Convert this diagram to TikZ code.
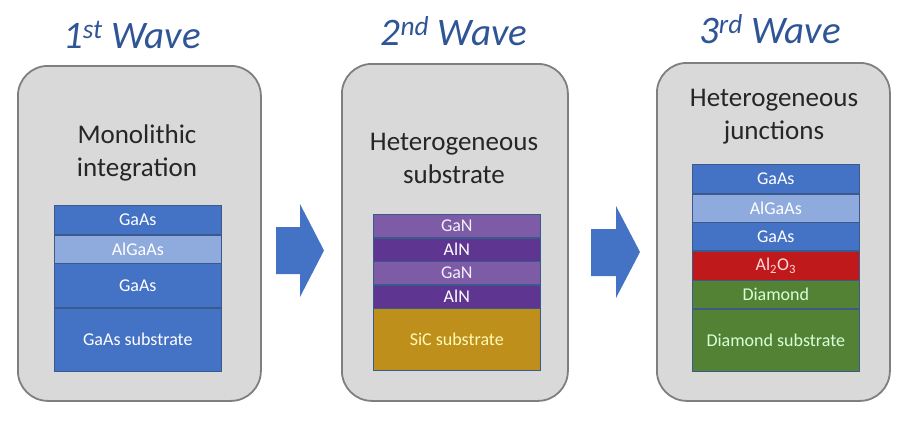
\documentclass[tikz,border=0pt]{standalone}
\usepackage{fontspec}
\setmainfont{Carlito}
\definecolor{WvBlue}{HTML}{2F5597}
\definecolor{WvGray}{HTML}{7F7F7F}
\definecolor{WvFill}{HTML}{D9D9D9}
\definecolor{WvText}{HTML}{262626}
\definecolor{WvEdge}{HTML}{3A5A8C}
\definecolor{GaAsC}{HTML}{4472C4}
\definecolor{AlGaAsC}{HTML}{8FAADC}
\definecolor{GaNC}{HTML}{7D5BA6}
\definecolor{AlNC}{HTML}{5E3590}
\definecolor{SiCC}{HTML}{BF8F1C}
\definecolor{AlOC}{HTML}{C0191C}
\definecolor{DiaC}{HTML}{548235}
\usetikzlibrary{positioning}

\begin{document}
\begin{tikzpicture}[x=1pt, y=-1pt,
    every node/.style={font=\fontsize{18}{20}\selectfont},
    panel/.style={rectangle, rounded corners=30pt, draw=WvGray, line width=1.8pt,
      fill=WvFill, anchor=north west, inner sep=0pt},
    wave/.style={font=\fontsize{39}{42}\selectfont\itshape, text=WvBlue, anchor=base},
    heading/.style={font=\fontsize{27}{33}\selectfont, text=WvText, align=center},
    layer/.style={rectangle, draw=WvEdge, line width=0.6pt, fill=#1, text=white,
      minimum width=167pt, anchor=north west, inner sep=0pt}]
    \useasboundingbox (0,0) rectangle (918,423);

    % the three waves
    \node[panel, minimum width=243pt, minimum height=335pt] (p1) at (17,65) {};
    \node[panel, minimum width=226pt, minimum height=337pt] (p2) at (341,63) {};
    \node[panel, minimum width=233pt, minimum height=338pt] (p3) at (656,62) {};
    \node[wave] (w1) at (132,48) {1\textsuperscript{st} Wave};
    \node[wave] (w2) at (454,45) {2\textsuperscript{nd} Wave};
    \node[wave] (w3) at (770,43) {3\textsuperscript{rd} Wave};
    \node[heading] (h1) at (137,153) {Monolithic\\integration};
    \node[heading] (h2) at (454,158) {Heterogeneous\\substrate};
    \node[heading] (h3) at (774,117) {Heterogeneous\\junctions};

    % 1st wave stack
    \node[layer=GaAsC, minimum height=29pt] (a1) at (54,205) {GaAs};
    \node[layer=AlGaAsC, minimum height=28pt, below=0pt of a1] (a2) {AlGaAs};
    \node[layer=GaAsC, minimum height=44pt, below=0pt of a2] (a3) {GaAs};
    \node[layer=GaAsC, minimum height=63pt, below=0pt of a3] (a4) {GaAs substrate};

    % 2nd wave stack
    \node[layer=GaNC, minimum height=23pt, text=white!90!GaNC] (b1) at (373,214) {GaN};
    \node[layer=AlNC, minimum height=23pt, below=0pt of b1] (b2) {AlN};
    \node[layer=GaNC, minimum height=23pt, text=white!90!GaNC, below=0pt of b2] (b3) {GaN};
    \node[layer=AlNC, minimum height=23pt, below=0pt of b3] (b4) {AlN};
    \node[layer=SiCC, minimum height=62pt, text=yellow!30!white, below=0pt of b4] (b5) {SiC substrate};

    % 3rd wave stack
    \node[layer=GaAsC, minimum height=29pt] (c1) at (692,164) {GaAs};
    \node[layer=AlGaAsC, minimum height=28pt, below=0pt of c1] (c2) {AlGaAs};
    \node[layer=GaAsC, minimum height=28pt, below=0pt of c2] (c3) {GaAs};
    \node[layer=AlOC, minimum height=29pt, text=red!15!white, below=0pt of c3] (c4) {Al\textsubscript{2}O\textsubscript{3}};
    \node[layer=DiaC, minimum height=28pt, text=green!15!white, below=0pt of c4] (c5) {Diamond};
    \node[layer=DiaC, minimum height=62pt, text=green!15!white, below=0pt of c5] (c6) {Diamond substrate};

    % block arrows
    \fill[GaAsC] (276,227) -- (300,227) -- (300,204) -- (324,250.5) -- (300,297) -- (300,274) -- (276,274) -- cycle;
    \fill[GaAsC] (591,229) -- (616,229) -- (616,206) -- (640,252) -- (616,298) -- (616,276) -- (591,276) -- cycle;
\end{tikzpicture}
\end{document}
